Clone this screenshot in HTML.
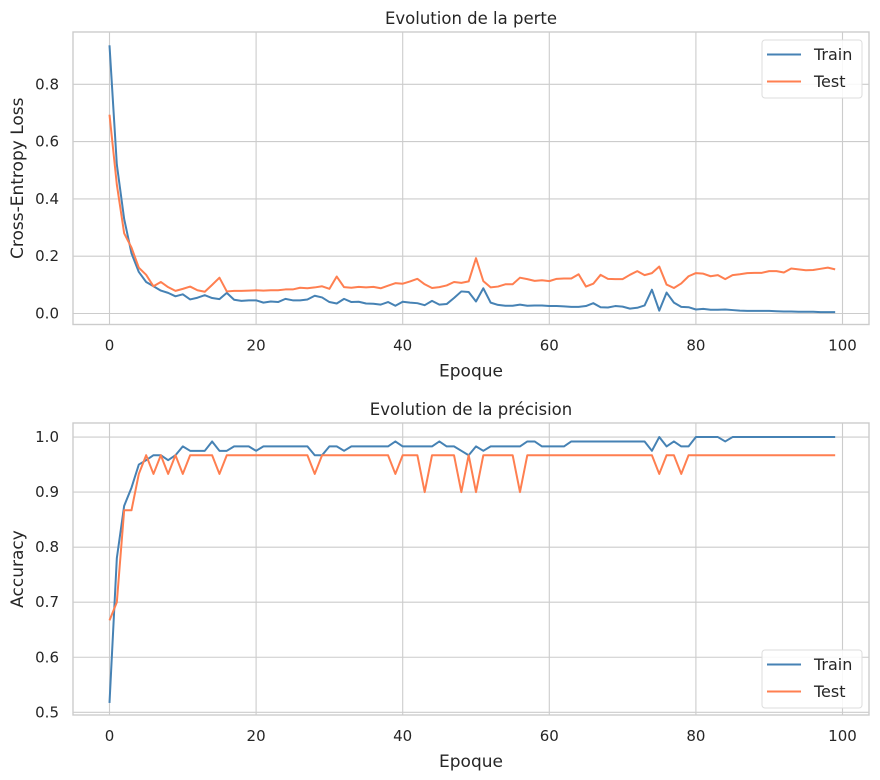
<!DOCTYPE html>
<html><head><meta charset="utf-8"><style>
body{margin:0;background:#fff}
svg{display:block;font-family:"DejaVu Sans","Liberation Sans",sans-serif}
</style></head><body>
<svg id="c" width="880" height="780"></svg>
<script>
const epochs = Array.from({length:100},(_,i)=>i);
const lossTrain = [0.936,0.52,0.33,0.21,0.145,0.11,0.095,0.08,0.072,0.06,0.067,0.049,0.055,0.064,0.054,0.05,0.072,0.048,0.044,0.046,0.046,0.038,0.042,0.04,0.051,0.046,0.046,0.049,0.062,0.056,0.04,0.035,0.051,0.04,0.041,0.035,0.034,0.031,0.04,0.027,0.041,0.038,0.036,0.029,0.044,0.031,0.033,0.054,0.077,0.075,0.042,0.088,0.038,0.03,0.027,0.027,0.031,0.027,0.028,0.028,0.026,0.026,0.025,0.023,0.023,0.026,0.036,0.022,0.021,0.026,0.024,0.017,0.02,0.028,0.083,0.01,0.073,0.038,0.023,0.022,0.014,0.016,0.013,0.013,0.014,0.012,0.01,0.009,0.009,0.009,0.009,0.008,0.007,0.007,0.006,0.006,0.006,0.005,0.005,0.005];
const lossTest = [0.694,0.45,0.28,0.23,0.16,0.135,0.095,0.11,0.092,0.079,0.086,0.094,0.081,0.076,0.1,0.125,0.077,0.079,0.079,0.08,0.081,0.08,0.081,0.081,0.084,0.084,0.09,0.088,0.091,0.095,0.086,0.129,0.092,0.09,0.093,0.091,0.093,0.088,0.097,0.106,0.104,0.112,0.121,0.102,0.089,0.092,0.098,0.11,0.107,0.112,0.193,0.113,0.091,0.094,0.102,0.102,0.125,0.12,0.114,0.116,0.113,0.121,0.122,0.122,0.137,0.094,0.104,0.135,0.121,0.12,0.12,0.135,0.148,0.134,0.141,0.164,0.101,0.089,0.105,0.13,0.141,0.139,0.13,0.134,0.12,0.134,0.137,0.141,0.142,0.142,0.148,0.148,0.143,0.157,0.154,0.151,0.152,0.156,0.16,0.154];
const accTrain = [0.517,0.78,0.875,0.908,0.95,0.958,0.967,0.967,0.958,0.967,0.983,0.975,0.975,0.975,0.992,0.975,0.975,0.983,0.983,0.983,0.975,0.983,0.983,0.983,0.983,0.983,0.983,0.983,0.967,0.967,0.983,0.983,0.975,0.983,0.983,0.983,0.983,0.983,0.983,0.992,0.983,0.983,0.983,0.983,0.983,0.992,0.983,0.983,0.975,0.967,0.983,0.975,0.983,0.983,0.983,0.983,0.983,0.992,0.992,0.983,0.983,0.983,0.983,0.992,0.992,0.992,0.992,0.992,0.992,0.992,0.992,0.992,0.992,0.992,0.975,1.0,0.983,0.992,0.983,0.983,1.0,1.0,1.0,1.0,0.992,1.0,1.0,1.0,1.0,1.0,1.0,1.0,1.0,1.0,1.0,1.0,1.0,1.0,1.0,1.0];
const accTest = [0.667,0.7,0.867,0.867,0.933,0.967,0.933,0.967,0.933,0.967,0.933,0.967,0.967,0.967,0.967,0.933,0.967,0.967,0.967,0.967,0.967,0.967,0.967,0.967,0.967,0.967,0.967,0.967,0.933,0.967,0.967,0.967,0.967,0.967,0.967,0.967,0.967,0.967,0.967,0.933,0.967,0.967,0.967,0.9,0.967,0.967,0.967,0.967,0.9,0.967,0.9,0.967,0.967,0.967,0.967,0.967,0.9,0.967,0.967,0.967,0.967,0.967,0.967,0.967,0.967,0.967,0.967,0.967,0.967,0.967,0.967,0.967,0.967,0.967,0.967,0.933,0.967,0.967,0.933,0.967,0.967,0.967,0.967,0.967,0.967,0.967,0.967,0.967,0.967,0.967,0.967,0.967,0.967,0.967,0.967,0.967,0.967,0.967,0.967,0.967];
const xTicks = [0,20,40,60,80,100];
const lossTicks = [0.0,0.2,0.4,0.6,0.8];
const accTicks = [0.5,0.6,0.7,0.8,0.9,1.0];

const NS="http://www.w3.org/2000/svg";
const svg=document.getElementById('c');
function mk(tag,attrs,parent,text){const e=document.createElementNS(NS,tag);for(const k in attrs)e.setAttribute(k,attrs[k]);if(text!==undefined)e.textContent=text;(parent||svg).appendChild(e);return e;}
const xs=e=>109.5+e*7.33;

function panel(p){
  const g=mk('g',{});
  
  
  const ys=v=>p.y0-(v-p.v0)*p.k;
  xTicks.forEach(t=>{
    const l=mk('line',{x1:xs(t),x2:xs(t),y1:p.top,y2:p.bot,stroke:'#cccccc','stroke-width':1.1},g);
    
    const tx=mk('text',{x:xs(t),y:p.bot+26,'text-anchor':'middle','font-size':15,fill:'#262626'},g,String(t));
    
  });
  p.ticks.forEach(t=>{
    const l=mk('line',{x1:73,x2:869,y1:ys(t),y2:ys(t),stroke:'#cccccc','stroke-width':1.1},g);
    
    const tx=mk('text',{x:59,y:ys(t)+5,'text-anchor':'end','font-size':15,fill:'#262626'},g,t.toFixed(1));
    
  });
  const fr=mk('rect',{x:73,y:p.top,width:796,height:p.bot-p.top,fill:'none',stroke:'#cccccc','stroke-width':1.4},g);
  
  [[p.train,'#4682b4','train-line'],[p.test,'#ff7f50','test-line']].forEach(([arr,col,nm])=>{
    const pl=mk('polyline',{points:arr.map((v,i)=>xs(epochs[i])+','+ys(v)).join(' '),fill:'none',stroke:col,'stroke-width':2,'stroke-linejoin':'round'},g);
    
  });
  const ti=mk('text',{x:471,y:p.top-8,'text-anchor':'middle','font-size':16.5,fill:'#262626'},g,p.title);
  
  const xl=mk('text',{x:471,y:p.bot+52,'text-anchor':'middle','font-size':17,fill:'#262626'},g,'Epoque');
  
  const cy=(p.top+p.bot)/2;
  const yl=mk('text',{x:23,y:cy,'text-anchor':'middle','font-size':17,fill:'#262626',transform:'rotate(-90 23 '+cy+')'},g,p.ylab);
  
  const lg=mk('g',{},g);
  
  mk('rect',{x:762,y:p.ly,width:100,height:58,rx:3,fill:'#fff','fill-opacity':0.85,stroke:'#dddddd'},lg);
  [['Train','#4682b4'],['Test','#ff7f50']].forEach(([n,c],i)=>{
    const e=mk('g',{},lg);
    
    mk('line',{x1:767,x2:801,y1:p.ly+14.5+i*27,y2:p.ly+14.5+i*27,stroke:c,'stroke-width':2},e);
    mk('text',{x:814,y:p.ly+20+i*27,'font-size':16,fill:'#262626'},e,n);
  });
}
panel({name:'loss-panel',top:32,bot:324.5,y0:313.5,v0:0,k:286.5,ticks:lossTicks,train:lossTrain,test:lossTest,title:'Evolution de la perte',ylab:'Cross-Entropy Loss',ly:40});
panel({name:'accuracy-panel',top:423,bot:715,y0:712.3,v0:0.5,k:550.5,ticks:accTicks,train:accTrain,test:accTest,title:'Evolution de la précision',ylab:'Accuracy',ly:650});
</script>
</body></html>
